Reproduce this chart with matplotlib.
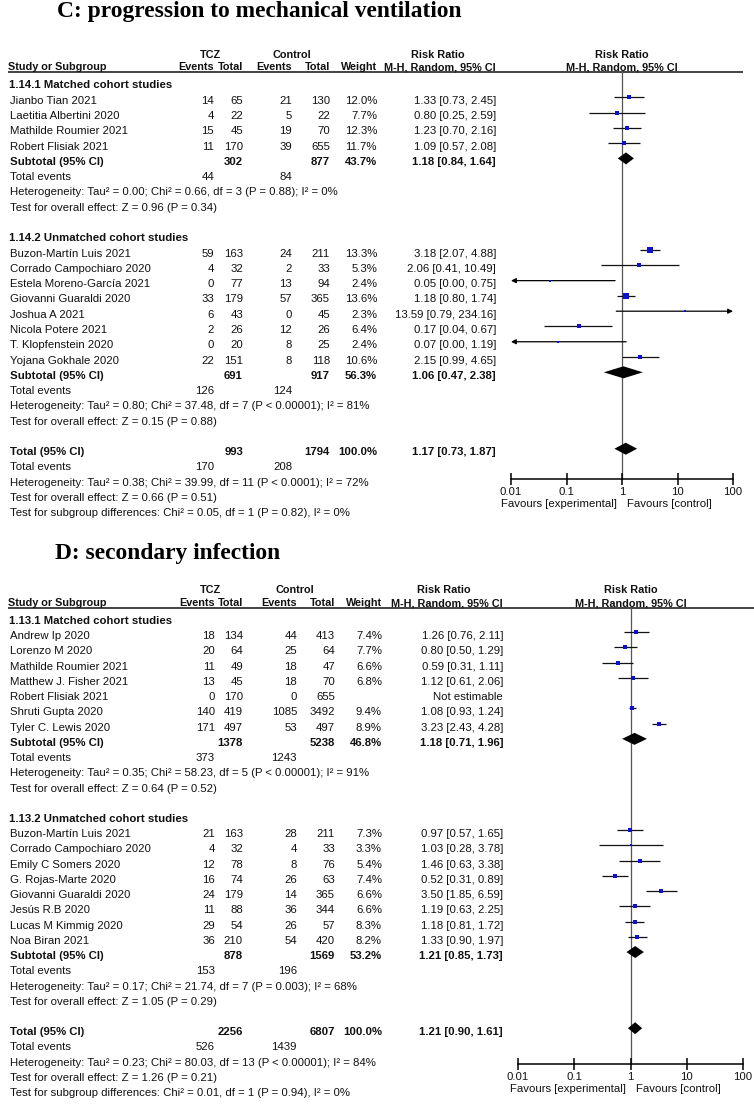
import matplotlib
matplotlib.use('Agg')
import matplotlib.pyplot as plt
from matplotlib.ticker import NullLocator, FixedLocator, FixedFormatter

W, H = 754, 1104

# ------------------------- DATA: panel C -------------------------
c_title = "C: progression to mechanical ventilation"
c_g1_label = "1.14.1 Matched cohort studies"
c_g1_names = ["Jianbo Tian 2021", "Laetitia Albertini 2020", "Mathilde Roumier 2021", "Robert Flisiak 2021"]
c_g1_e_tcz = [14, 4, 15, 11]
c_g1_n_tcz = [65, 22, 45, 170]
c_g1_e_ctl = [21, 5, 19, 39]
c_g1_n_ctl = [130, 22, 70, 655]
c_g1_weight = [12.0, 7.7, 12.3, 11.7]
c_g1_rr = [1.33, 0.80, 1.23, 1.09]
c_g1_lo = [0.73, 0.25, 0.70, 0.57]
c_g1_hi = [2.45, 2.59, 2.16, 2.08]
c_g1_sub_n = [302, 877]
c_g1_sub_w = 43.7
c_g1_sub_ci = [1.18, 0.84, 1.64]
c_g1_events = [44, 84]
c_g1_het = "Heterogeneity: Tau² = 0.00; Chi² = 0.66, df = 3 (P = 0.88); I² = 0%"
c_g1_test = "Test for overall effect: Z = 0.96 (P = 0.34)"

c_g2_label = "1.14.2 Unmatched cohort studies"
c_g2_names = ["Buzon-Martín Luis 2021", "Corrado Campochiaro 2020", "Estela Moreno-García 2021",
              "Giovanni Guaraldi 2020", "Joshua A 2021", "Nicola Potere 2021",
              "T. Klopfenstein 2020", "Yojana Gokhale 2020"]
c_g2_e_tcz = [59, 4, 0, 33, 6, 2, 0, 22]
c_g2_n_tcz = [163, 32, 77, 179, 43, 26, 20, 151]
c_g2_e_ctl = [24, 2, 13, 57, 0, 12, 8, 8]
c_g2_n_ctl = [211, 33, 94, 365, 45, 26, 25, 118]
c_g2_weight = [13.3, 5.3, 2.4, 13.6, 2.3, 6.4, 2.4, 10.6]
c_g2_rr = [3.18, 2.06, 0.05, 1.18, 13.59, 0.17, 0.07, 2.15]
c_g2_lo = [2.07, 0.41, 0.00, 0.80, 0.79, 0.04, 0.00, 0.99]
c_g2_hi = [4.88, 10.49, 0.75, 1.74, 234.16, 0.67, 1.19, 4.65]
c_g2_sub_n = [691, 917]
c_g2_sub_w = 56.3
c_g2_sub_ci = [1.06, 0.47, 2.38]
c_g2_events = [126, 124]
c_g2_het = "Heterogeneity: Tau² = 0.80; Chi² = 37.48, df = 7 (P < 0.00001); I² = 81%"
c_g2_test = "Test for overall effect: Z = 0.15 (P = 0.88)"

c_tot_n = [993, 1794]
c_tot_w = 100.0
c_tot_ci = [1.17, 0.73, 1.87]
c_tot_events = [170, 208]
c_tot_het = "Heterogeneity: Tau² = 0.38; Chi² = 39.99, df = 11 (P < 0.0001); I² = 72%"
c_tot_test = "Test for overall effect: Z = 0.66 (P = 0.51)"
c_tot_diff = "Test for subgroup differences: Chi² = 0.05, df = 1 (P = 0.82), I² = 0%"

# ------------------------- DATA: panel D -------------------------
d_title = "D: secondary infection"
d_g1_label = "1.13.1 Matched cohort studies"
d_g1_names = ["Andrew Ip 2020", "Lorenzo M 2020", "Mathilde Roumier 2021", "Matthew J. Fisher 2021",
              "Robert Flisiak 2021", "Shruti Gupta 2020", "Tyler C. Lewis 2020"]
d_g1_e_tcz = [18, 20, 11, 13, 0, 140, 171]
d_g1_n_tcz = [134, 64, 49, 45, 170, 419, 497]
d_g1_e_ctl = [44, 25, 18, 18, 0, 1085, 53]
d_g1_n_ctl = [413, 64, 47, 70, 655, 3492, 497]
d_g1_weight = [7.4, 7.7, 6.6, 6.8, None, 9.4, 8.9]
d_g1_rr = [1.26, 0.80, 0.59, 1.12, None, 1.08, 3.23]
d_g1_lo = [0.76, 0.50, 0.31, 0.61, None, 0.93, 2.43]
d_g1_hi = [2.11, 1.29, 1.11, 2.06, None, 1.24, 4.28]
d_g1_sub_n = [1378, 5238]
d_g1_sub_w = 46.8
d_g1_sub_ci = [1.18, 0.71, 1.96]
d_g1_events = [373, 1243]
d_g1_het = "Heterogeneity: Tau² = 0.35; Chi² = 58.23, df = 5 (P < 0.00001); I² = 91%"
d_g1_test = "Test for overall effect: Z = 0.64 (P = 0.52)"

d_g2_label = "1.13.2 Unmatched cohort studies"
d_g2_names = ["Buzon-Martín Luis 2021", "Corrado Campochiaro 2020", "Emily C Somers 2020",
              "G. Rojas-Marte 2020", "Giovanni Guaraldi 2020", "Jesús R.B 2020",
              "Lucas M Kimmig 2020", "Noa Biran 2021"]
d_g2_e_tcz = [21, 4, 12, 16, 24, 11, 29, 36]
d_g2_n_tcz = [163, 32, 78, 74, 179, 88, 54, 210]
d_g2_e_ctl = [28, 4, 8, 26, 14, 36, 26, 54]
d_g2_n_ctl = [211, 33, 76, 63, 365, 344, 57, 420]
d_g2_weight = [7.3, 3.3, 5.4, 7.4, 6.6, 6.6, 8.3, 8.2]
d_g2_rr = [0.97, 1.03, 1.46, 0.52, 3.50, 1.19, 1.18, 1.33]
d_g2_lo = [0.57, 0.28, 0.63, 0.31, 1.85, 0.63, 0.81, 0.90]
d_g2_hi = [1.65, 3.78, 3.38, 0.89, 6.59, 2.25, 1.72, 1.97]
d_g2_sub_n = [878, 1569]
d_g2_sub_w = 53.2
d_g2_sub_ci = [1.21, 0.85, 1.73]
d_g2_events = [153, 196]
d_g2_het = "Heterogeneity: Tau² = 0.17; Chi² = 21.74, df = 7 (P = 0.003); I² = 68%"
d_g2_test = "Test for overall effect: Z = 1.05 (P = 0.29)"

d_tot_n = [2256, 6807]
d_tot_w = 100.0
d_tot_ci = [1.21, 0.90, 1.61]
d_tot_events = [526, 1439]
d_tot_het = "Heterogeneity: Tau² = 0.23; Chi² = 80.03, df = 13 (P < 0.00001); I² = 84%"
d_tot_test = "Test for overall effect: Z = 1.26 (P = 0.21)"
d_tot_diff = "Test for subgroup differences: Chi² = 0.01, df = 1 (P = 0.94), I² = 0%"

tick_values = [0.01, 0.1, 1, 10, 100]
tick_labels = ["0.01", "0.1", "1", "10", "100"]

# ------------------------- STYLE -------------------------
SANS = ['Liberation Sans', 'DejaVu Sans']
SERIF = ['Liberation Serif', 'DejaVu Serif']
FS = 8.2
HFS = 7.8
TITLE_FS = 16.9
BLUE = '#1010d0'
TXT = '#111111'

fig = plt.figure(figsize=(W / 100, H / 100), dpi=100)
fig.patch.set_facecolor('white')
main = fig.add_axes([0, 0, 1, 1])
main.set_xlim(0, W)
main.set_ylim(H, 0)
main.axis('off')


def group(label, names, e_t, n_t, e_c, n_c, w, rr, lo, hi, sub_n, sub_w, sub_ci, events, het, test):
    return dict(label=label, names=names, e_t=e_t, n_t=n_t, e_c=e_c, n_c=n_c, w=w, rr=rr, lo=lo,
                hi=hi, sub_n=sub_n, sub_w=sub_w, sub_ci=sub_ci, events=events, het=het, test=test)


def txt(x, y, s, ha='left', bold=False, size=FS, fam=SANS):
    main.text(x, y + 4, s, ha=ha, va='baseline', fontsize=size, family=fam,
              fontweight='bold' if bold else 'normal', color=TXT)


def ci_str(r, l, h):
    return f"{r:.2f} [{l:.2f}, {h:.2f}]"


def draw_panel(title, groups, tot_n, tot_w, tot_ci, tot_events, tot_het, tot_test, tot_diff, L):
    y0, step = L['y0'], L['step']
    cols = L['cols']
    # title
    main.text(L['title_x'], L['title_y'], title, ha='left', va='center', fontsize=TITLE_FS,
              family=SERIF, fontweight='bold', color='black')
    # header
    hy1 = y0 - 31
    hy2 = y0 - 18
    txt(L['tcz_x'], hy1, "TCZ", ha='center', bold=True, size=HFS)
    txt(L['ctl_x'], hy1, "Control", ha='center', bold=True, size=HFS)
    txt(L['rr_x'], hy1, "Risk Ratio", ha='center', bold=True, size=HFS)
    txt(L['one_px'], hy1, "Risk Ratio", ha='center', bold=True, size=HFS)
    txt(8, hy2, "Study or Subgroup", bold=True, size=HFS)
    for cx, s in zip(cols, ["Events", "Total", "Events", "Total", "Weight", "M-H, Random, 95% CI"]):
        txt(cx, hy2, s, ha='right', bold=True, size=HFS)
    txt(L['one_px'], hy2, "M-H, Random, 95% CI", ha='center', bold=True, size=HFS)
    line_y = y0 - 12.5
    main.plot([8, L['line_x1']], [line_y, line_y], color='#222222', lw=1.2, solid_capstyle='butt')

    # forest axes
    top_px, bot_px = L['ax_top'], L['ax_bot']
    fx = fig.add_axes([L['x0'] / W, 1 - bot_px / H, (L['x1'] - L['x0']) / W, (bot_px - top_px) / H])
    fx.set_xscale('log')
    fx.set_xlim(0.01, 100)
    fx.set_ylim(bot_px, top_px)
    fx.patch.set_alpha(0)
    for s in ['top', 'left', 'right']:
        fx.spines[s].set_visible(False)
    fx.spines['bottom'].set_position(('data', L['axis_y']))
    fx.spines['bottom'].set_bounds(0.01, 100)
    fx.spines['bottom'].set_linewidth(1.1)
    fx.xaxis.set_major_locator(FixedLocator(tick_values))
    fx.xaxis.set_major_formatter(FixedFormatter(tick_labels))
    fx.xaxis.set_minor_locator(NullLocator())
    fx.tick_params(axis='x', direction='inout', length=8, width=1.1, pad=1.5, labelsize=FS,
                   labelcolor=TXT)
    for lab in fx.get_xticklabels():
        lab.set_family(SANS)
    fx.set_yticks([])
    fx.plot([1, 1], [line_y, L['axis_y']], color='#555555', lw=0.9, zorder=1)

    dy = L['mk_dy']

    def study_mark(r, lo, hi, y, w):
        lo_c, hi_c = max(lo, 0.01), min(hi, 100)
        if lo < 0.01:
            fx.annotate('', xy=(0.01, y), xytext=(hi_c, y), annotation_clip=False,
                        arrowprops=dict(arrowstyle='-|>', color='black', lw=0.9,
                                        mutation_scale=7, shrinkA=0, shrinkB=0))
        elif hi > 100:
            fx.annotate('', xy=(100, y), xytext=(lo_c, y), annotation_clip=False,
                        arrowprops=dict(arrowstyle='-|>', color='black', lw=0.9,
                                        mutation_scale=7, shrinkA=0, shrinkB=0))
        else:
            fx.plot([lo_c, hi_c], [y, y], color='#111111', lw=0.9, zorder=2, solid_capstyle='butt')
        side = max(1.7, 1.4 * w ** 0.5)
        fx.plot([r], [y], marker='s', ms=side * 0.72, color=BLUE, mec=BLUE, mew=0, zorder=3,
                clip_on=False)

    def diamond(r, lo, hi, y):
        h = 6.0
        fx.fill([lo, r, hi, r], [y, y - h, y, y + h], color='black', lw=0, zorder=3)

    row = 0

    def ry(i):
        return y0 + i * step

    for g in groups:
        txt(9, ry(row), g['label'], bold=True)
        row += 1
        for k in range(len(g['names'])):
            y = ry(row)
            txt(10, y, g['names'][k])
            txt(cols[0], y, str(g['e_t'][k]), ha='right')
            txt(cols[1], y, str(g['n_t'][k]), ha='right')
            txt(cols[2], y, str(g['e_c'][k]), ha='right')
            txt(cols[3], y, str(g['n_c'][k]), ha='right')
            if g['rr'][k] is None:
                txt(cols[5], y, "Not estimable", ha='right')
            else:
                txt(cols[4], y, f"{g['w'][k]:.1f}%", ha='right')
                txt(cols[5], y, ci_str(g['rr'][k], g['lo'][k], g['hi'][k]), ha='right')
                study_mark(g['rr'][k], g['lo'][k], g['hi'][k], y + dy, g['w'][k])
            row += 1
        y = ry(row)
        txt(10, y, "Subtotal (95% CI)", bold=True)
        txt(cols[1], y, str(g['sub_n'][0]), ha='right', bold=True)
        txt(cols[3], y, str(g['sub_n'][1]), ha='right', bold=True)
        txt(cols[4], y, f"{g['sub_w']:.1f}%", ha='right', bold=True)
        txt(cols[5], y, ci_str(*g['sub_ci']), ha='right', bold=True)
        diamond(*g['sub_ci'], y + dy)
        row += 1
        y = ry(row)
        txt(10, y, "Total events")
        txt(cols[0], y, str(g['events'][0]), ha='right')
        txt(cols[2], y, str(g['events'][1]), ha='right')
        row += 1
        txt(10, ry(row), g['het'])
        row += 1
        txt(10, ry(row), g['test'])
        row += 2

    y = ry(row)
    txt(10, y, "Total (95% CI)", bold=True)
    txt(cols[1], y, str(tot_n[0]), ha='right', bold=True)
    txt(cols[3], y, str(tot_n[1]), ha='right', bold=True)
    txt(cols[4], y, f"{tot_w:.1f}%", ha='right', bold=True)
    txt(cols[5], y, ci_str(*tot_ci), ha='right', bold=True)
    diamond(*tot_ci, y + dy)
    row += 1
    y = ry(row)
    txt(10, y, "Total events")
    txt(cols[0], y, str(tot_events[0]), ha='right')
    txt(cols[2], y, str(tot_events[1]), ha='right')
    row += 1
    txt(10, ry(row), tot_het)
    row += 1
    txt(10, ry(row), tot_test)
    row += 1
    txt(10, ry(row), tot_diff)

    # favours labels
    fy = L['axis_y'] + 25
    main.text(L['one_px'] - 5, fy, "Favours [experimental]", ha='right', va='center', fontsize=FS,
              family=SANS, color=TXT)
    main.text(L['one_px'] + 5, fy, "Favours [control]", ha='left', va='center', fontsize=FS,
              family=SANS, color=TXT)


c_groups = [
    group(c_g1_label, c_g1_names, c_g1_e_tcz, c_g1_n_tcz, c_g1_e_ctl, c_g1_n_ctl, c_g1_weight,
          c_g1_rr, c_g1_lo, c_g1_hi, c_g1_sub_n, c_g1_sub_w, c_g1_sub_ci, c_g1_events, c_g1_het, c_g1_test),
    group(c_g2_label, c_g2_names, c_g2_e_tcz, c_g2_n_tcz, c_g2_e_ctl, c_g2_n_ctl, c_g2_weight,
          c_g2_rr, c_g2_lo, c_g2_hi, c_g2_sub_n, c_g2_sub_w, c_g2_sub_ci, c_g2_events, c_g2_het, c_g2_test),
]
d_groups = [
    group(d_g1_label, d_g1_names, d_g1_e_tcz, d_g1_n_tcz, d_g1_e_ctl, d_g1_n_ctl, d_g1_weight,
          d_g1_rr, d_g1_lo, d_g1_hi, d_g1_sub_n, d_g1_sub_w, d_g1_sub_ci, d_g1_events, d_g1_het, d_g1_test),
    group(d_g2_label, d_g2_names, d_g2_e_tcz, d_g2_n_tcz, d_g2_e_ctl, d_g2_n_ctl, d_g2_weight,
          d_g2_rr, d_g2_lo, d_g2_hi, d_g2_sub_n, d_g2_sub_w, d_g2_sub_ci, d_g2_events, d_g2_het, d_g2_test),
]

layout_c = dict(title_x=57, title_y=12, y0=84.5, step=15.28,
                cols=[214, 243, 292, 330, 377, 496], tcz_x=210, ctl_x=292, rr_x=438,
                x0=511, x1=733, one_px=622, line_x1=743, axis_y=479, ax_top=0, ax_bot=540,
                mk_dy=-2.5)
layout_d = dict(title_x=55, title_y=553, y0=620, step=15.23,
                cols=[215, 243, 297, 335, 382, 503], tcz_x=210, ctl_x=295, rr_x=444,
                x0=518, x1=743, one_px=630.5, line_x1=754, axis_y=1064, ax_top=540, ax_bot=1104,
                mk_dy=-3)

draw_panel(c_title, c_groups, c_tot_n, c_tot_w, c_tot_ci, c_tot_events, c_tot_het, c_tot_test,
           c_tot_diff, layout_c)
draw_panel(d_title, d_groups, d_tot_n, d_tot_w, d_tot_ci, d_tot_events, d_tot_het, d_tot_test,
           d_tot_diff, layout_d)

fig.savefig('out.png', dpi=100, facecolor='white')
